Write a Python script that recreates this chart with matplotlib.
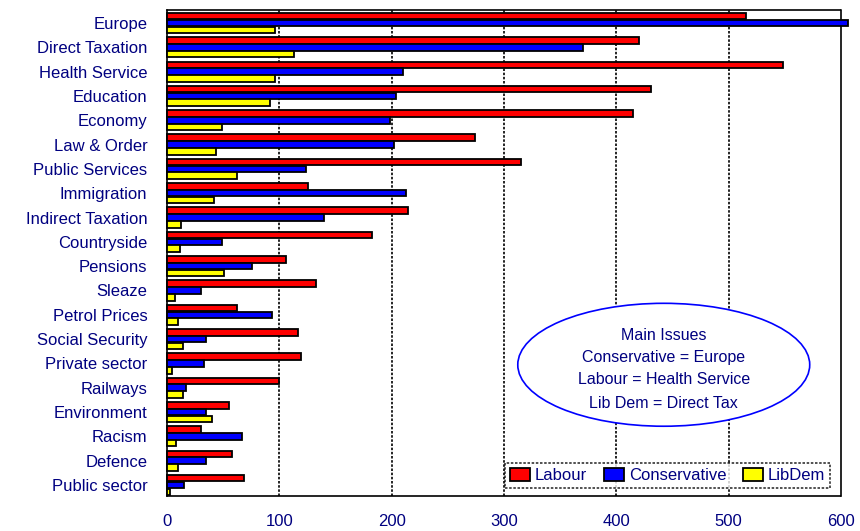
import matplotlib
matplotlib.use("Agg")
import matplotlib.pyplot as plt
import numpy as np
from matplotlib.patches import Ellipse

plt.rcParams["font.family"] = ["Liberation Sans", "DejaVu Sans"]

issues = ["Europe", "Direct Taxation", "Health Service", "Education", "Economy",
          "Law & Order", "Public Services", "Immigration", "Indirect Taxation",
          "Countryside", "Pensions", "Sleaze", "Petrol Prices", "Social Security",
          "Private sector", "Railways", "Environment", "Racism", "Defence",
          "Public sector"]
labour = [515, 420, 548, 431, 415, 274, 315, 126, 215, 183,
          106, 133, 62, 117, 119, 100, 55, 30, 58, 69]
conservative = [606, 370, 210, 204, 199, 202, 124, 213, 140, 49,
                76, 30, 94, 35, 33, 17, 35, 67, 35, 15]
libdem = [96, 113, 96, 92, 49, 44, 62, 42, 13, 12,
          51, 7, 10, 14, 5, 14, 40, 8, 10, 3]
notes = ["Main Issues", "Conservative = Europe", "Labour = Health Service",
         "Lib Dem = Direct Tax"]

navy = "#000080"
fig = plt.figure(figsize=(8.6, 5.31), dpi=100)
ax = fig.add_axes([0.194, 0.066, 0.784, 0.915])

y = np.arange(len(issues))
h = 0.27
off = 0.28
kw = dict(height=h, edgecolor="black", linewidth=1.3, clip_on=False, zorder=3)
ax.barh(y - off, labour, color="#ff0000", label="Labour", **kw)
ax.barh(y, conservative, color="#0000ff", label="Conservative", **kw)
ax.barh(y + off, libdem, color="#ffff00", label="LibDem", **kw)

ax.set_xlim(0, 600)
ax.set_ylim(19.45, -0.53)
ax.set_xticks([0, 100, 200, 300, 400, 500, 600])
ax.set_yticks(y)
ax.set_yticklabels(issues)
ax.tick_params(axis="y", length=0, pad=14, labelsize=12, labelcolor=navy)
ax.tick_params(axis="x", length=0, pad=13, labelsize=12, labelcolor=navy)

for v in [100, 200, 300, 400, 500]:
    ax.axvline(v, color="black", linewidth=1.2, linestyle=(0, (1.5, 1)), zorder=1)
for s in ax.spines.values():
    s.set_linestyle((0, (1.5, 1)))
    s.set_linewidth(1.2)

leg = ax.legend(loc="lower right", bbox_to_anchor=(0.984, 0.016), ncol=3,
                fontsize=12, frameon=True, fancybox=False, handlelength=1.2,
                handleheight=0.8, handletextpad=0.3, columnspacing=1.0,
                borderpad=0.3, borderaxespad=0)
leg.get_frame().set_edgecolor("black")
leg.get_frame().set_linestyle((0, (1.5, 1)))
leg.get_frame().set_linewidth(1.2)
for t in leg.get_texts():
    t.set_color(navy)
leg.set_zorder(5)

ell = Ellipse((0.737, 0.27), 0.433, 0.253, transform=ax.transAxes,
              facecolor="white", edgecolor="#0000ff", linewidth=1.2, zorder=4)
ax.add_patch(ell)
for txt, yy in zip(notes, [0.331, 0.284, 0.239, 0.191]):
    ax.text(0.737, yy, txt, transform=ax.transAxes, ha="center", va="center",
            fontsize=11.5, color=navy, zorder=5)

fig.savefig("out.png", dpi=100)
